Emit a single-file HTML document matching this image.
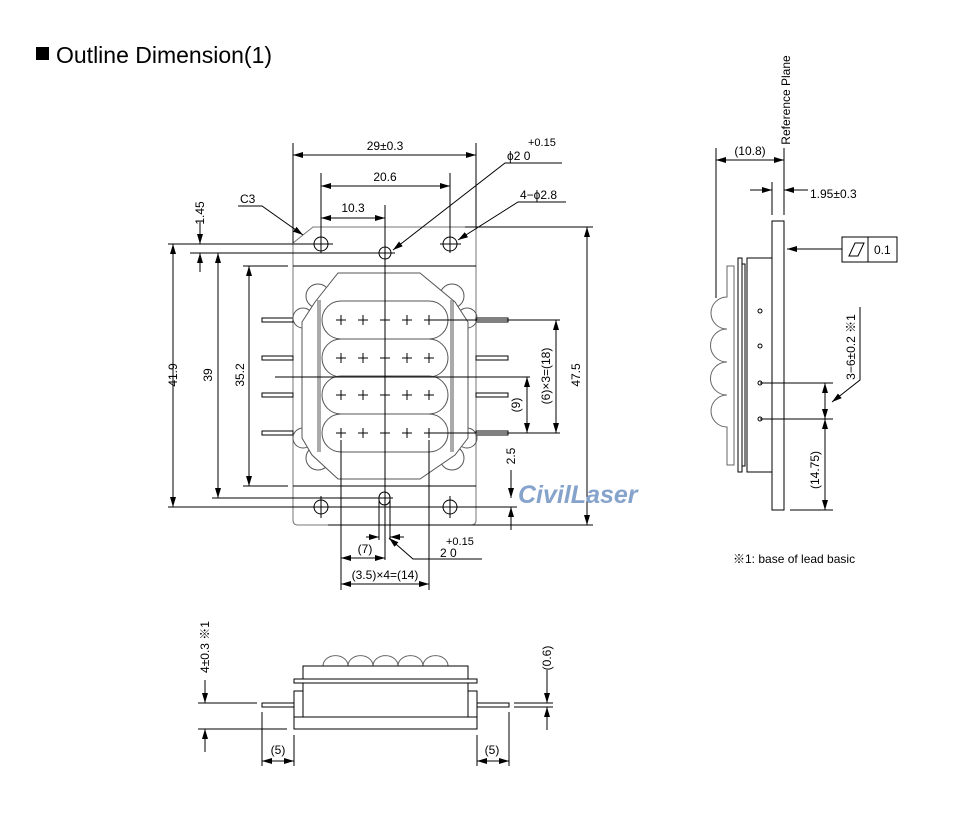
<!DOCTYPE html>
<html><head><meta charset="utf-8"><style>
html,body{margin:0;padding:0;background:#fff;}
svg{display:block;}
text{font-family:"Liberation Sans","Noto Sans CJK JP",sans-serif;font-size:12px;fill:#000;}
</style></head><body>
<svg width="976" height="813" viewBox="0 0 976 813" xmlns="http://www.w3.org/2000/svg">
<defs>
<marker id="a" viewBox="0 0 10 6" refX="10" refY="3" markerWidth="10" markerHeight="6" markerUnits="userSpaceOnUse" orient="auto-start-reverse"><path d="M0,0 L10,3 L0,6 Z" fill="#000"/></marker>
</defs>
<rect x="36" y="47" width="13" height="13" fill="#000"/>
<text x="56" y="63" style="font-size:23px">Outline Dimension(1)</text>

<g fill="none" stroke="#000" stroke-width="1">
<path d="M313,227 H476 V520 Q476,525 471,525 H298 Q293,525 293,520 V243 Z" stroke="#777"/>
<line x1="293" y1="266" x2="476" y2="266"/>
<line x1="293" y1="486" x2="476" y2="486"/>
<circle cx="321" cy="244" r="7"/><circle cx="450" cy="244" r="7"/>
<circle cx="321" cy="507" r="7"/><circle cx="450" cy="507" r="7"/>
<line x1="321" y1="496" x2="321" y2="518"/><line x1="450" y1="496" x2="450" y2="518"/>
<line x1="440" y1="244" x2="461" y2="244"/><line x1="310" y1="507" x2="332" y2="507"/>
<circle cx="385" cy="253" r="6"/>
<rect x="379" y="492" width="11" height="13" rx="5.5"/>
<g>
<rect x="262" y="318" width="31" height="4"/><rect x="262" y="356" width="31" height="4"/>
<rect x="262" y="393" width="31" height="4"/><rect x="262" y="431" width="31" height="4"/>
<rect x="476" y="318" width="32" height="4"/><rect x="476" y="356" width="32" height="4"/>
<rect x="476" y="393" width="32" height="4"/><rect x="476" y="431" width="32" height="4"/>
</g>
<g stroke="#555">
<circle cx="318" cy="296" r="12"/><circle cx="452" cy="296" r="12"/>
<circle cx="303" cy="318" r="10"/><circle cx="467" cy="318" r="10"/>
<circle cx="318" cy="458" r="12"/><circle cx="452" cy="458" r="12"/>
<circle cx="303" cy="438" r="10"/><circle cx="467" cy="438" r="10"/>
<path d="M338,273 H420 L455,302 L468,322 V438 L455,455 L420,479 H338 L312,455 L302,438 V322 L315,302 Z" fill="#fff"/>
<line x1="318" y1="300" x2="318" y2="452"/><line x1="320" y1="300" x2="320" y2="452"/>
<line x1="451" y1="300" x2="451" y2="452"/><line x1="453" y1="300" x2="453" y2="452"/>
<rect x="322" y="301" width="126" height="38" rx="19" fill="#fff"/>
<rect x="322" y="339" width="126" height="38" rx="19" fill="#fff"/>
<rect x="322" y="376" width="126" height="38" rx="19" fill="#fff"/>
<rect x="322" y="414" width="126" height="38" rx="19" fill="#fff"/>
</g>
<g stroke-width="1">
<path d="M336,320h10M341,315v10M358,320h10M363,315v10M380,320h10M402,320h10M407,315v10M424,320h10M429,315v10"/>
<path d="M336,358h10M341,353v10M358,358h10M363,353v10M380,358h10M402,358h10M407,353v10M424,358h10M429,353v10"/>
<path d="M336,395h10M341,390v10M358,395h10M363,390v10M380,395h10M402,395h10M407,390v10M424,395h10M429,390v10"/>
<path d="M336,433h10M341,428v10M358,433h10M363,428v10M380,433h10M402,433h10M407,428v10M424,433h10M429,428v10"/>
</g>
<line x1="385" y1="205" x2="385" y2="560"/>
<line x1="293" y1="143" x2="293" y2="243"/><line x1="476" y1="143" x2="476" y2="227"/>
<line x1="321" y1="173" x2="321" y2="253"/><line x1="450" y1="173" x2="450" y2="253"/>
<line x1="168" y1="244" x2="333" y2="244"/><line x1="190" y1="253" x2="395" y2="253"/>
<line x1="243" y1="266" x2="288" y2="266"/><line x1="243" y1="486" x2="288" y2="486"/>
<line x1="212" y1="498" x2="393" y2="498"/><line x1="168" y1="507" x2="517" y2="507"/>
<line x1="465" y1="227" x2="593" y2="227"/><line x1="328" y1="525" x2="593" y2="525"/>
<line x1="429" y1="320" x2="560" y2="320"/><line x1="429" y1="433" x2="560" y2="433"/>
<line x1="275" y1="377" x2="530" y2="377"/>
<line x1="341" y1="440" x2="341" y2="590"/><line x1="429" y1="440" x2="429" y2="590"/>
<line x1="379" y1="500" x2="379" y2="540"/><line x1="390" y1="500" x2="390" y2="540"/>
<g marker-start="url(#a)" marker-end="url(#a)">
<line x1="293" y1="155" x2="476" y2="155"/>
<line x1="321" y1="186" x2="450" y2="186"/>
<line x1="321" y1="218" x2="385" y2="218"/>
<line x1="173" y1="244" x2="173" y2="507"/>
<line x1="218" y1="253" x2="218" y2="498"/>
<line x1="249" y1="266" x2="249" y2="486"/>
<line x1="587" y1="227" x2="587" y2="525"/>
<line x1="556" y1="320" x2="556" y2="433"/>
<line x1="527" y1="377" x2="527" y2="433"/>
<line x1="341" y1="558" x2="385" y2="558"/>
<line x1="341" y1="584" x2="429" y2="584"/>
</g>
<g marker-end="url(#a)">
<line x1="200" y1="222" x2="200" y2="244"/><line x1="200" y1="272" x2="200" y2="253"/>
<line x1="511" y1="470" x2="511" y2="498"/><line x1="511" y1="530" x2="511" y2="507"/>
<line x1="366" y1="537" x2="379" y2="537"/><line x1="404" y1="537" x2="390" y2="537"/>
<path d="M238,206 H262 L303,235"/>
<path d="M562,163 H505 L393,250"/>
<path d="M566,202 H518 L458,240"/>
<path d="M482,559 H413 L389,538"/>
</g>
</g>
<text x="385" y="150" text-anchor="middle">29±0.3</text>
<text x="385" y="181" text-anchor="middle">20.6</text>
<text x="353" y="212" text-anchor="middle">10.3</text>
<text x="528" y="146" style="font-size:11px">+0.15</text>
<text x="507" y="160">ϕ2  0</text>
<text x="520" y="199">4−ϕ2.8</text>
<text x="240" y="203">C3</text>
<text transform="translate(204,213) rotate(-90)" text-anchor="middle">1.45</text>
<text transform="translate(177,375) rotate(-90)" text-anchor="middle">41.9</text>
<text transform="translate(212,375) rotate(-90)" text-anchor="middle">39</text>
<text transform="translate(244,375) rotate(-90)" text-anchor="middle">35.2</text>
<text transform="translate(580,375) rotate(-90)" text-anchor="middle">47.5</text>
<text transform="translate(550,376) rotate(-90)" text-anchor="middle">(6)×3=(18)</text>
<text transform="translate(520,405) rotate(-90)" text-anchor="middle">(9)</text>
<text transform="translate(515,456) rotate(-90)" text-anchor="middle">2.5</text>
<text x="446" y="545" style="font-size:11px">+0.15</text>
<text x="440" y="557">2  0</text>
<text x="365" y="553" text-anchor="middle">(7)</text>
<text x="385" y="579" text-anchor="middle">(3.5)×4=(14)</text>
<text x="518" y="503" style="font-size:25px;font-weight:bold;font-style:italic;fill:#86a3cc">CivilLaser</text>

<g fill="none" stroke="#000">
<line x1="784" y1="148" x2="784" y2="215"/>
<line x1="716" y1="148" x2="716" y2="298"/>
<line x1="772" y1="182" x2="772" y2="215"/>
<rect x="772" y="221" width="12" height="289"/>
<rect x="747" y="258" width="25" height="214"/>
<rect x="738" y="258" width="4" height="214"/>
<rect x="742" y="264" width="3" height="202"/>
<path d="M734,266 H727 V297 A16,16 0 0 0 727,329 A16,16 0 0 0 727,362 A16,16 0 0 0 727,395 A16,16 0 0 0 727,427 V465 H734 Z" stroke="#666"/>
<rect x="842" y="237" width="55" height="25"/>
<line x1="868" y1="237" x2="868" y2="262"/>
<path d="M849,256 L855,243 H864 L858,256 Z"/>
<circle cx="760" cy="311" r="2"/><circle cx="760" cy="346" r="2"/>
<circle cx="760" cy="383" r="2"/><circle cx="760" cy="419" r="2"/>
<line x1="760" y1="383" x2="833" y2="383"/><line x1="760" y1="419" x2="833" y2="419"/>
<line x1="790" y1="510" x2="833" y2="510"/>
<g marker-start="url(#a)" marker-end="url(#a)">
<line x1="716" y1="160" x2="784" y2="160"/>
<line x1="825" y1="383" x2="825" y2="419"/>
<line x1="825" y1="419" x2="825" y2="510"/>
</g>
<g marker-end="url(#a)">
<line x1="750" y1="190" x2="772" y2="190"/><line x1="808" y1="190" x2="784" y2="190"/>
<line x1="842" y1="249" x2="787" y2="249"/>
<path d="M860,307 V380 L832,402"/>
</g>
</g>
<text transform="translate(790,100) rotate(-90)" text-anchor="middle">Reference Plane</text>
<text x="750" y="155" text-anchor="middle">(10.8)</text>
<text x="810" y="198">1.95±0.3</text>
<text x="874" y="254">0.1</text>
<text transform="translate(855,347) rotate(-90)" text-anchor="middle">3−6±0.2 ※1</text>
<text transform="translate(819,470) rotate(-90)" text-anchor="middle">(14.75)</text>
<text x="733" y="563">※1: base of lead basic</text>

<g fill="none" stroke="#000">
<path d="M323,666 A12,10 0 0 1 348,666 A12,10 0 0 1 373,666 A12,10 0 0 1 398,666 A12,10 0 0 1 423,666 A12,10 0 0 1 448,666" stroke="#666"/>
<rect x="303" y="666" width="165" height="13"/>
<rect x="294" y="679" width="183" height="4"/>
<rect x="303" y="683" width="165" height="34"/>
<rect x="294" y="691" width="9" height="26"/><rect x="468" y="691" width="9" height="26"/>
<rect x="294" y="717" width="183" height="12"/>
<rect x="262" y="703" width="32" height="4"/><rect x="477" y="703" width="32" height="4"/>
<line x1="198" y1="703" x2="257" y2="703"/><line x1="198" y1="729" x2="287" y2="729"/>
<line x1="262" y1="712" x2="262" y2="766"/><line x1="294" y1="735" x2="294" y2="766"/>
<line x1="477" y1="735" x2="477" y2="766"/><line x1="509" y1="712" x2="509" y2="766"/>
<line x1="514" y1="703" x2="553" y2="703"/><line x1="514" y1="707" x2="553" y2="707"/>
<g marker-start="url(#a)" marker-end="url(#a)">
<line x1="262" y1="761" x2="294" y2="761"/><line x1="477" y1="761" x2="509" y2="761"/>
</g>
<g marker-end="url(#a)">
<line x1="205" y1="680" x2="205" y2="703"/><line x1="205" y1="752" x2="205" y2="729"/>
<line x1="547" y1="670" x2="547" y2="703"/><line x1="547" y1="730" x2="547" y2="707"/>
</g>
</g>
<text transform="translate(209,647) rotate(-90)" text-anchor="middle">4±0.3 ※1</text>
<text transform="translate(551,658) rotate(-90)" text-anchor="middle">(0.6)</text>
<text x="278" y="754" text-anchor="middle">(5)</text>
<text x="492" y="754" text-anchor="middle">(5)</text>
</svg>
</body></html>
